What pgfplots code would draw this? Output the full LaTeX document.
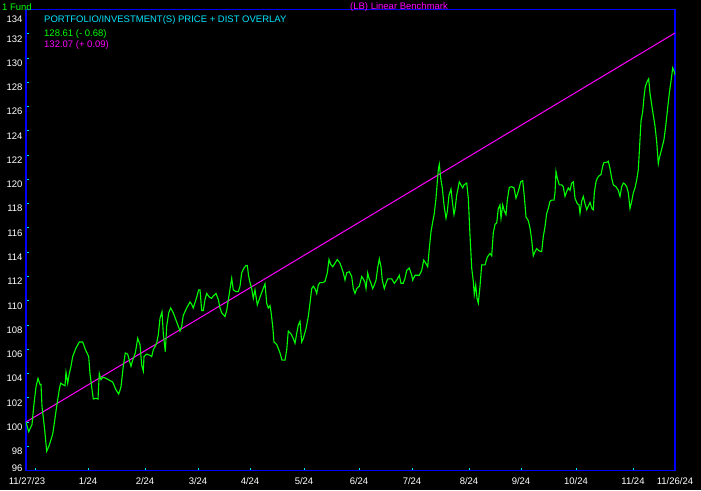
\documentclass[border=0pt]{standalone}
\usepackage{pgfplots}
\pgfplotsset{compat=1.18}
\usepackage{fontspec}
\setmainfont{Liberation Sans}

\definecolor{fundgreen}{RGB}{0,255,0}
\definecolor{lbmag}{RGB}{255,0,255}
\definecolor{axblue}{RGB}{0,0,255}
\definecolor{tkcyan}{RGB}{0,230,255}

\newcommand{\chartfont}{\fontsize{9.5}{11}\selectfont}

\begin{document}
\begin{tikzpicture}[x=1pt,y=1pt]
\useasboundingbox (0,0) rectangle (701,490);
\fill[black] (0,0) rectangle (701,490);

\begin{axis}[
  at={(26,16)}, anchor=south west,
  scale only axis,
  width=649pt, height=461pt,
  xmin=26, xmax=675,
  ymin=96, ymax=134,
  axis line style={axblue, line width=1.2pt},
  tick style={tkcyan, line width=1pt},
  tick align=inside,
  tick pos=left,
  major tick length=3pt,
  font=\chartfont,
  ticklabel style={white},
  yticklabel style={yshift=-5pt},
  xticklabel style={yshift=-3pt},
  ytick={96,98,...,134},
  yticklabels={\raisebox{7pt}[\height][\depth]{96},98,100,102,104,106,108,110,112,114,116,118,120,122,124,126,128,130,132,\raisebox{-5pt}[\height][\depth]{134}},
  xtick={36,88,145,198,250,304,359,412,469,521,576,633},
  xticklabels={\hspace*{-18pt}11/27/23,1/24,2/24,3/24,4/24,5/24,6/24,7/24,8/24,9/24,10/24,11/24},
  extra x ticks={675},
  extra x tick labels={11/26/24},
  extra x tick style={major tick length=0pt},
]
% linear benchmark
\addplot[lbmag, line width=1pt] coordinates {(26,100.0) (675,132.07)};
% fund price
\addplot[fundgreen, line width=1.1pt] coordinates {
(26,100.0) (28.7,99.2) (32,99.8) (34,101.5) (36,102.9) (38,103.6) (40,103.1) (41,103.1)
(42,101.3) (44.5,99.5) (46.7,97.6) (49.3,98.1) (52.7,99.0) (54.3,99.9) (56.7,101.3)
(59.3,102.7) (60.7,103.2) (62.7,103.1) (65,103.0) (66,104.1) (67.7,103.2) (69.3,104.0)
(71,104.6) (72.7,105.4) (76,106.1) (79.3,106.6) (82.7,106.6) (85.3,106.0) (88.7,105.4)
(90,104.0) (92,102.7) (93.3,101.9) (96,101.96) (98,101.9) (99.3,104.0) (101,103.5)
(103,103.7) (106,103.6) (112.7,103.3) (116,102.65) (118.7,102.3) (121,102.9) (123.3,104.6)
(125.3,105.7) (127.7,105.6) (129.3,105.1) (131,104.6) (132.7,105.1) (135.3,105.7)
(137.7,106.9) (139,106.6) (140,106.4) (141.7,104.7) (143.3,104.2) (144,105.4) (146.7,105.6)
(150,105.5) (151.7,105.4) (153.3,105.95) (156.7,106.5) (158.3,107.2) (160,108.55)
(162,109.1) (163.3,107.3) (165.3,105.8) (166.7,107.9) (168.7,109.0) (170.7,109.4)
(173.3,109.0) (176,108.4) (178.3,107.9) (180,107.5) (181.7,107.9) (183.3,108.8)
(186.7,109.4) (190,109.9) (191.7,109.7) (193.3,109.4) (196.7,110.3) (198.7,110.9)
(200,110.9) (201.7,109.2) (203.3,109.2) (205,110.1) (206.7,110.6) (209.3,110.3)
(211.7,110.2) (213.3,110.4) (216,110.6) (218.3,110.1) (220,109.4) (221.7,109.0)
(225,108.7) (226.7,109.2) (229.3,110.6) (231.7,111.85) (233.3,110.9) (236,110.75)
(238.3,110.75) (240,111.2) (241.7,112.3) (244,112.7) (246,112.9) (247.3,112.9)
(248.7,112.0) (250,111.5) (251.7,111.0) (253.3,110.2) (255,110.9) (257.3,109.65)
(260,110.3) (262.7,110.9) (265,111.4) (266.7,109.8) (268.3,109.4) (270,109.6) (271,109.1)
(272.7,107.9) (274,106.6) (276.7,106.4) (280,105.7) (282,105.1) (285,105.1) (286.7,105.95)
(288.3,107.5) (290.7,107.3) (292.7,107.0) (295,106.5) (296.7,107.3) (298.3,108.0)
(300,108.3) (301.7,106.6) (303.3,106.9) (306,107.7) (308.3,108.7) (310,109.8) (311.7,111.0)
(313.3,111.2) (315,111.0) (316.7,110.6) (318.3,111.3) (320,111.5) (323,111.5) (325,111.6)
(327.3,112.3) (329,113.4) (330.7,113.0) (332.7,112.8) (335,113.1) (337.3,113.4)
(340,113.1) (341.7,112.7) (343.3,112.3) (345,111.7) (346.7,112.3) (349.3,112.4)
(351.7,112.0) (353.3,111.0) (355,110.6) (356.7,111.0) (359.3,111.2) (361.7,112.0)
(363.3,111.8) (365,111.5) (366,111.0) (367.7,112.3) (369,111.85) (371,111.44) (372.7,111.0)
(374.3,111.3) (376,111.7) (377.7,112.7) (379.3,113.45) (381,112.8) (382.3,111.7)
(384.3,111.0) (386,111.44) (387.7,111.8) (391.7,111.8) (394.3,111.44) (396.7,111.7)
(399.3,112.1) (401,111.44) (403.3,111.44) (405,111.85) (406.7,112.5) (409.3,112.7)
(411.7,112.1) (412.7,111.7) (415,112.1) (419.3,112.1) (421.7,112.5) (423.7,113.35)
(425.7,113.1) (427.7,112.8) (429.3,114.3) (431,115.7) (432.7,116.5) (434.3,117.2)
(436,118.45) (437.3,119.8) (438.3,120.8) (439.3,121.25) (440.7,120.1) (442.3,119.3)
(444,117.9) (446,116.8) (447.3,117.35) (449,118.7) (451,119.2) (452.3,118.2) (454,117.1)
(455,117.5) (456.7,118.7) (459.3,119.8) (461,119.55) (462.7,119.3) (464,119.55)
(466.7,119.7) (468.3,118.45) (470,115.4) (471.7,112.7) (473.3,111.6) (474.3,110.5)
(475.7,111.3) (477,110.2) (478.3,109.8) (480,111.2) (481.7,112.96) (485,112.96)
(487.3,113.6) (490,113.9) (491.7,113.7) (493.3,115.6) (495,116.3) (496.7,116.4)
(498.3,117.6) (500,117.9) (501,116.8) (502.7,117.9) (504.3,117.4) (506,117.1) (507.3,118.3)
(509.3,119.35) (511.7,119.4) (514,119.3) (516,118.45) (518.3,119.0) (520.7,119.8)
(522.7,119.9) (524.3,118.6) (526,116.9) (528.3,116.6) (530,116.0) (531.7,115.0)
(533.3,113.7) (535,114.05) (536.7,114.3) (539.3,114.1) (541.7,114.05) (543.3,115.3)
(545,116.1) (546.7,117.2) (548.3,117.6) (550,118.2) (551.7,118.3) (554,118.3) (555,118.9)
(556,120.65) (557.3,120.1) (559.3,119.55) (561.7,119.55) (563.3,119.4) (565,118.6)
(566.7,119.0) (568.3,119.3) (570,119.1) (571.7,119.7) (573.3,119.8) (575,118.45)
(577.3,118.0) (579,117.9) (580,117.2) (581.7,118.2) (583.3,118.6) (585,118.0) (586.7,117.5)
(588.3,117.8) (590,118.1) (592,117.6) (593.3,117.5) (594.3,118.9) (596,119.8) (597.3,120.1)
(599,120.3) (601,120.4) (602.7,121.1) (604,121.4) (606.7,121.4) (608.3,121.5) (610,120.9)
(611.7,120.1) (613.3,119.55) (616,119.4) (618.3,119.1) (620,118.6) (621.7,119.4)
(623.3,119.7) (625,119.6) (626.7,119.4) (628.3,118.9) (630,117.6) (631.7,118.2)
(633.3,118.9) (635,119.3) (636.7,119.96) (638.3,120.8) (640,123.3) (641,124.8)
(642.7,125.6) (644,126.8) (645.3,127.65) (647.3,128.1) (648.7,128.3) (650,127.1)
(651.7,126.15) (653.3,125.3) (655,124.4) (656.7,123.1) (658.3,121.3) (659.3,121.75)
(661,122.3) (662.7,122.85) (664,123.3) (666,124.6) (667.7,125.9) (669.3,127.1)
(671,128.1) (672.7,129.2) (674,128.95) (675,128.61)
};
\end{axis}

\node[anchor=west, inner sep=0pt, text=fundgreen, font=\chartfont] at (2,483) {1 Fund};
\node[anchor=west, inner sep=0pt, text=lbmag, font=\chartfont] at (350,483) {(LB) Linear Benchmark};
\node[anchor=west, inner sep=0pt, text=tkcyan, font=\chartfont] at (44,470) {PORTFOLIO/INVESTMENT(S) PRICE + DIST OVERLAY};
\node[anchor=west, inner sep=0pt, text=fundgreen, font=\chartfont] at (44,456) {128.61 (- 0.68)};
\node[anchor=west, inner sep=0pt, text=lbmag, font=\chartfont] at (44,445) {132.07 (+ 0.09)};
\end{tikzpicture}
\end{document}
